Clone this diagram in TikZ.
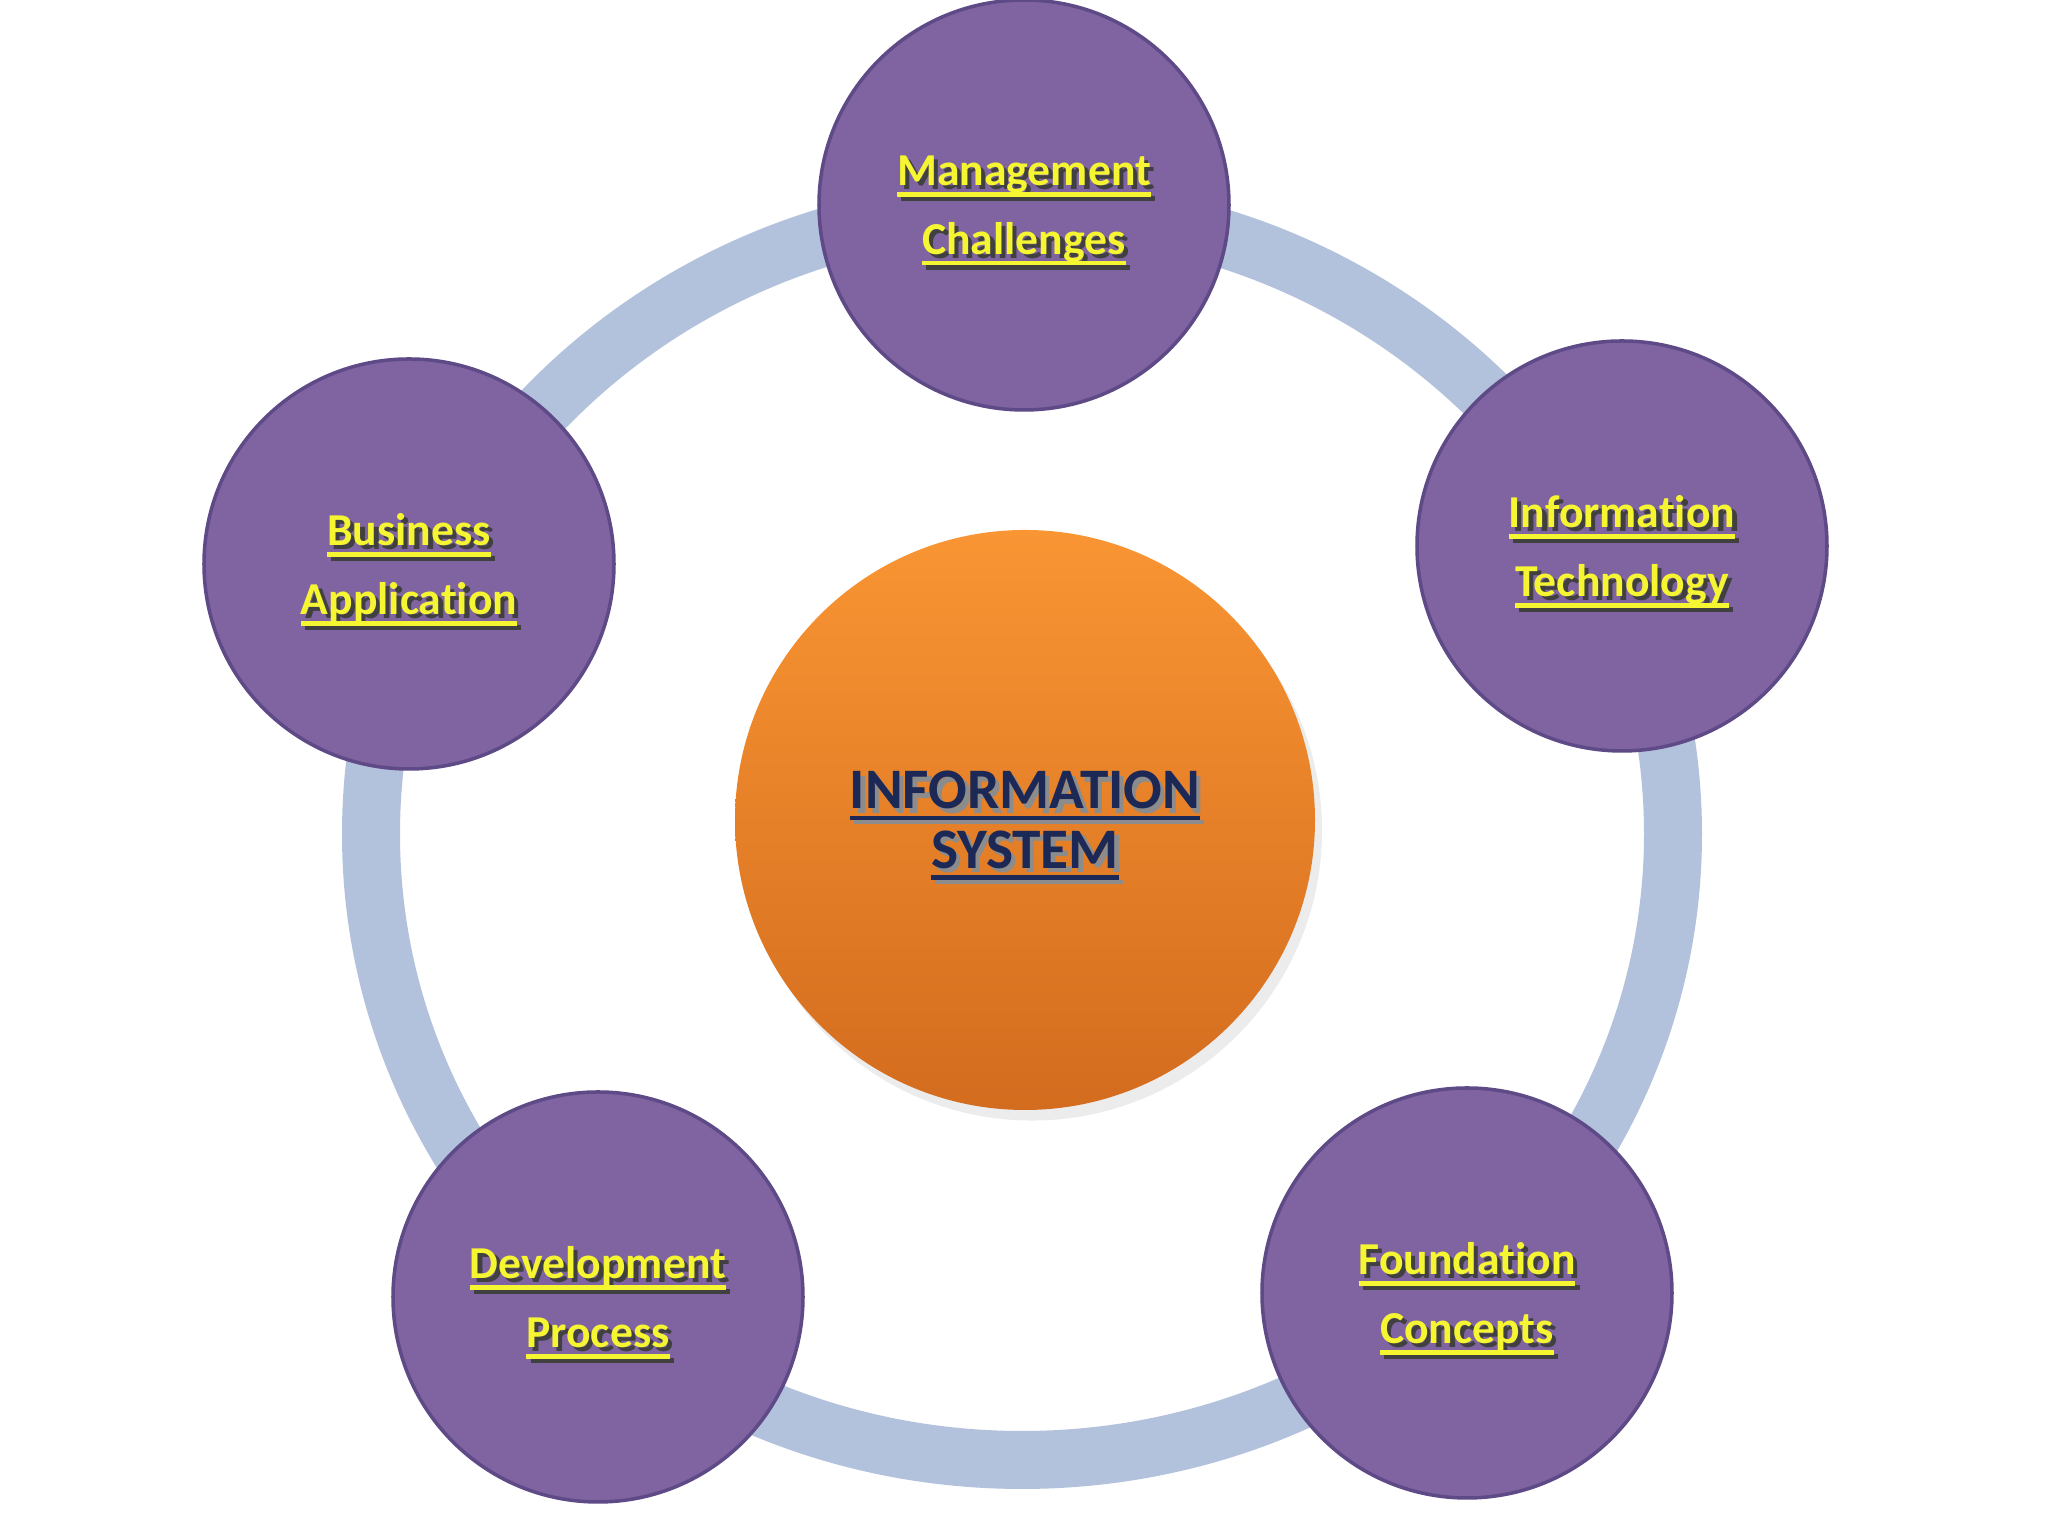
\documentclass[tikz,border=0pt]{standalone}
\usepackage{fontspec}
\setmainfont{Carlito}[Ligatures=NoCommon]
\usepackage{tikz}
\usetikzlibrary{shadows}
\definecolor{ringblue}{HTML}{B3C2DC}
\definecolor{satpurple}{HTML}{8064A2}
\definecolor{satedge}{HTML}{5E4A86}
\definecolor{textyellow}{HTML}{F5F532}
\definecolor{orangetop}{HTML}{F99533}
\definecolor{orangebot}{HTML}{D36C1E}
\definecolor{navytext}{HTML}{1C2856}
\newcommand\ulbox[1]{\setbox0\hbox{#1}\rlap{\smash{\rule[-3.2pt]{\wd0}{1.3pt}}}\box0}
\newcommand\shadowed[2]{\rlap{\kern1.2pt\raisebox{-1.2pt}{\color{#2}\ulbox{#1}}}\ulbox{#1}}
\tikzset{
  satellite/.style={circle,draw=satedge,fill=satpurple,line width=1pt,minimum size=4.1cm,
    text=textyellow,align=center,text depth=0pt,font=\bfseries\fontsize{13}{19.6}\selectfont},
  hub/.style={circle,minimum size=5.8cm,top color=orangetop,bottom color=orangebot,
    drop shadow={opacity=0.15,shadow xshift=2pt,shadow yshift=-3pt},
    text=navytext,align=center,text depth=0pt,font=\bfseries\fontsize{16.3}{17}\selectfont}
}
\begin{document}
\begin{tikzpicture}[line cap=round,line join=round,x=1cm,y=1cm]
  \useasboundingbox[fill=white] (0,0) rectangle (20.48,15.36);
  % ring behind everything
  \coordinate (ringc) at (10.22,7.02);
  \draw [ringblue,line width=0.58cm] (ringc) ellipse (6.51cm and 6.26cm);
  % centre
  \node[hub] (is) at (10.25,7.16) {\shadowed{INFORMATION}{black!45}\\\shadowed{SYSTEM}{black!45}};
  % five topics round the ring
  \node[satellite] (mc) at (10.24,13.31) {\shadowed{Management}{black!75}\\\shadowed{Challenges}{black!75}};
  \node[satellite] (it) at (16.22,9.90) {\shadowed{Information}{black!75}\\\shadowed{Technology}{black!75}};
  \node[satellite] (fc) at (14.67,2.43) {\shadowed{Foundation}{black!75}\\\shadowed{Concepts}{black!75}};
  \node[satellite] (dp) at (5.98,2.39) {\shadowed{Development}{black!75}\\\shadowed{Process}{black!75}};
  \node[satellite] (ba) at (4.09,9.72) {\shadowed{Business}{black!75}\\\shadowed{Application}{black!75}};
\end{tikzpicture}
\end{document}
